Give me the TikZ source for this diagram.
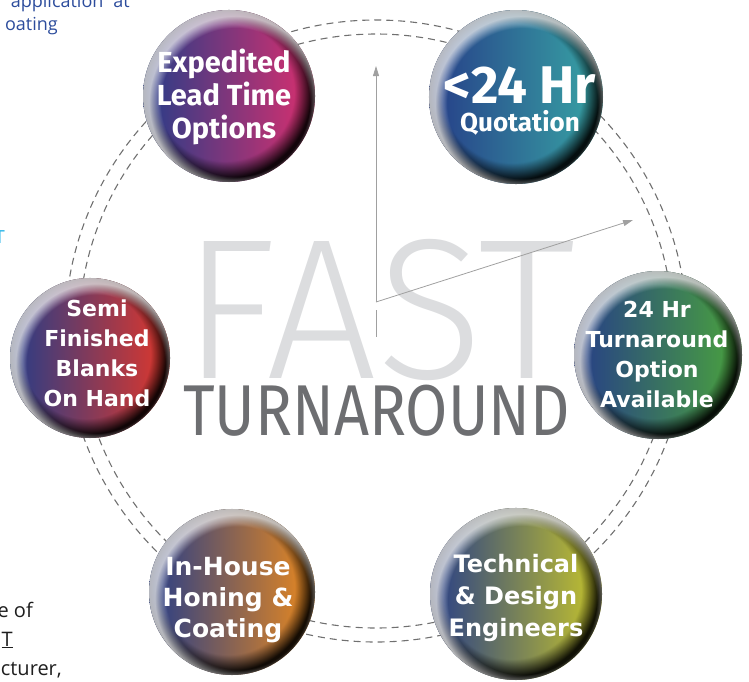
\documentclass[tikz,border=0pt]{standalone}
\usepackage{fontspec}
\usetikzlibrary{arrows.meta,fadings}
\newfontfamily\headfont{Fira Sans}
\newfontfamily\ballfont{DejaVu Sans}
\newfontfamily\fastfont{Fira Sans Light}
\newfontfamily\pagefont{Open Sans}
\definecolor{ballblue}{HTML}{263D88}
\definecolor{pinkball}{HTML}{DC2F6E}
\definecolor{tealball}{HTML}{38A6A5}
\definecolor{redball}{HTML}{E2372A}
\definecolor{greenball}{HTML}{4AA43C}
\definecolor{orangeball}{HTML}{EC8A1D}
\definecolor{oliveball}{HTML}{C8C62A}
\definecolor{ringgray}{HTML}{707070}
\definecolor{handgray}{HTML}{A0A0A0}
\definecolor{fastgray}{HTML}{DCDDDF}
\definecolor{turngray}{HTML}{6D6E71}
\definecolor{pageblue}{HTML}{2C4C9C}
\definecolor{pagecyan}{HTML}{1FB1E6}
\definecolor{pageblack}{HTML}{1E1E1E}
\pgfdeclareradialshading{rimdarkshade}{\pgfpointorigin}{color(0bp)=(black); color(20bp)=(black); color(25bp)=(white!90!black); color(50bp)=(white!90!black)}
\pgfdeclarefading{rimdark}{\pgfuseshading{rimdarkshade}}
\pgfdeclareradialshading{rimlightshade}{\pgfpointorigin}{color(0bp)=(black); color(21.5bp)=(black); color(25bp)=(white!70!black); color(50bp)=(white!70!black)}
\pgfdeclarefading{rimlight}{\pgfuseshading{rimlightshade}}
\tikzset{
  ring/.style={draw=ringgray, line width=1.1pt, dash pattern=on 7pt off 5pt},
  ball/.style={circle, inner sep=0pt, minimum size=#1, left color=ballblue,
    postaction={fill=black, path fading=rimdark, fading transform={shift={(-1.2pt,1.2pt)}}},
    postaction={fill=white, path fading=rimlight, fading transform={shift={(1.8pt,-1.8pt)}}}},
  balltext/.style={text=white, align=center, inner sep=0pt, font=\ballfont\bfseries\fontsize{22}{30}\selectfont},
  headtext/.style={text=white, align=center, inner sep=0pt, font=\headfont\bfseries\fontsize{29}{33}\selectfont},
  hand/.style={draw=handgray, line width=0.8pt, -{Triangle[length=10pt,width=6pt]}},
  pagetext/.style={anchor=base east, inner sep=0pt, font=\pagefont\fontsize{18}{20}\selectfont}
}
\begin{document}
\begin{tikzpicture}[x=1pt,y=-1pt]
\useasboundingbox (0,0) rectangle (749,681);
% text of the page, cut off at the margin
\node[pagetext, text=pageblue] (app) at (130,7) {application\hspace{10pt}at};
\node[pagetext, text=pageblue] (coat) at (58,30) {oating};
\node[pagetext, text=pagecyan] (cutT) at (5,243) {T};
\node[pagetext, text=pageblack, font=\pagefont\fontsize{20}{22}\selectfont] (eof) at (33,617) {e of};
\node[pagetext, text=pageblack, font=\pagefont\fontsize{20}{22}\selectfont] (undT) at (13,646) {\underline{T}};
\node[pagetext, text=pageblack, font=\pagefont\fontsize{20}{22}\selectfont] (ctr) at (62,675) {cturer,};
% double dashed ring
\coordinate (hub) at (376,331);
\draw[ring] (hub) circle (311);
\draw[ring] (hub) circle (297);
% title and clock hands
\node[anchor=base west, inner sep=0pt, text=fastgray, font=\fastfont\fontsize{200}{200}\selectfont] (fast) at (182,378) {\scalebox{0.98}[1]{FAST}};
\coordinate (pivot) at (376,302);
\coordinate (noon) at (376,66);
\coordinate (three) at (633,220);
\coordinate (tailtop) at (376,310);
\coordinate (tailend) at (376,337);
\draw[hand] (pivot) -- (noon);
\draw[hand] (pivot) -- (three);
\draw[draw=handgray, line width=0.8pt] (tailtop) -- (tailend);
\node[anchor=base west, inner sep=0pt, text=turngray, font=\headfont\fontsize{72}{72}\selectfont] (turn) at (183,435) {\scalebox{0.85}[1]{TURNAROUND}};
% spheres
\node[ball=172pt, right color=pinkball] (lead) at (229,96) {};
\node[headtext] (leadtext) at (224,97) {Expedited\\Lead Time\\Options};
\node[ball=174pt, right color=tealball] (quote) at (516,97) {};
\node[headtext, font=\headfont\bfseries\fontsize{26}{28}\selectfont] (quotetext) at (520,101) {{\fontsize{53}{53}\selectfont <24 Hr}\\Quotation};
\node[ball=160pt, right color=redball] (blanks) at (90,358) {};
\node[balltext] (blankstext) at (97,353) {Semi\\Finished\\Blanks\\On Hand};
\node[ball=168pt, right color=greenball] (option) at (658,355) {};
\node[balltext] (optiontext) at (657,354) {24 Hr\\Turnaround\\Option\\Available};
\node[ball=166pt, right color=orangeball] (honing) at (232,592) {};
\node[balltext, font=\ballfont\bfseries\fontsize{25}{31}\selectfont] (honingtext) at (228,600) {In-House\\Honing \&\\Coating};
\node[ball=172pt, right color=oliveball] (design) at (516,594) {};
\node[balltext, font=\ballfont\bfseries\fontsize{24}{32}\selectfont] (designtext) at (516,598) {Technical\\\& Design\\Engineers};
\end{tikzpicture}
\end{document}
